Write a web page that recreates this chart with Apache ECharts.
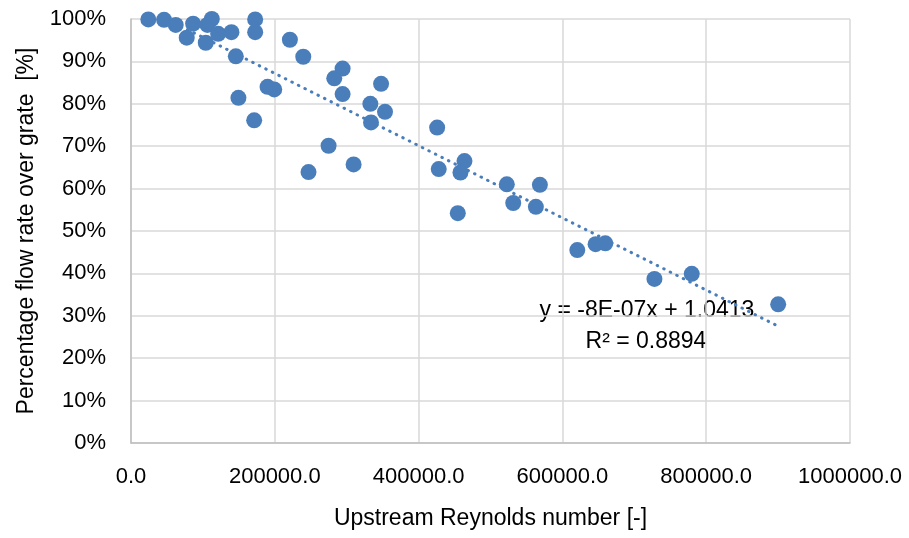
<!DOCTYPE html>
<html>
<head>
<meta charset="utf-8">
<script src="https://cdn.jsdelivr.net/npm/echarts@6/dist/echarts.min.js"></script>
<style>
html,body{margin:0;padding:0;background:#fff;}
#chart{width:909px;height:538px;}
</style>
</head>
<body>
<div id="chart"></div>
<script>
// Upstream Reynolds number [-]
var reynolds = [24100, 46000, 62200, 86400, 112400, 106300, 77500, 104000, 121200, 139700,
  172700, 172700, 145800, 149400, 171300, 189900, 199200, 221000, 239600, 294300,
  282700, 294300, 347800, 332900, 353300, 333800, 274800, 309600, 246900,
  425800, 428000, 463800, 458200, 454500, 522700, 568700, 531600, 563100,
  620700, 646200, 659700, 728000, 779900, 900100];
// Percentage flow rate over grate [%]
var percentFlow = [99.9, 99.8, 98.6, 98.9, 100.0, 98.6, 95.6, 94.4, 96.5, 96.9,
  99.9, 96.9, 91.2, 81.4, 76.1, 84.0, 83.4, 95.1, 91.1, 88.3,
  86.0, 82.3, 84.7, 80.0, 78.1, 75.6, 70.1, 65.7, 63.9,
  74.4, 64.6, 66.5, 63.8, 54.2, 61.0, 60.9, 56.6, 55.7,
  45.5, 46.9, 47.1, 38.7, 39.9, 32.7];
var xTicks = [0, 200000, 400000, 600000, 800000, 1000000];
var yTicks = [0, 10, 20, 30, 40, 50, 60, 70, 80, 90, 100];
var equationText = ['y = -8E-07x + 1.0413', 'R² = 0.8894'];

// least-squares linear trendline (as the spreadsheet draws it) from the data
var n = reynolds.length, sx = 0, sy = 0, sxx = 0, sxy = 0;
for (var i = 0; i < n; i++) { sx += reynolds[i]; sy += percentFlow[i]; sxx += reynolds[i]*reynolds[i]; sxy += reynolds[i]*percentFlow[i]; }
var slope = (n*sxy - sx*sy) / (n*sxx - sx*sx);
var intercept = (sy - slope*sx) / n;
var xMin = Math.min.apply(null, reynolds), xMax = Math.max.apply(null, reynolds);
var trend = [[xMin, intercept + slope*xMin], [xMax, intercept + slope*xMax]];

var FONT = '"Liberation Sans", Arial, sans-serif';
var TICK = 22;
var TITLE = 23;

var pts = reynolds.map(function(x, i){ return [x, percentFlow[i]]; });
var chart = echarts.init(document.getElementById('chart'));
chart.setOption({
  backgroundColor: '#ffffff',
  animation: false,
  grid: {left: 131, right: 59, top: 19, bottom: 95},
  xAxis: {
    type: 'value', min: xTicks[0], max: xTicks[xTicks.length-1], interval: 200000,
    name: 'Upstream Reynolds number [-]', nameLocation: 'middle', nameGap: 64,
    nameTextStyle: {fontFamily: FONT, fontSize: TITLE, color: '#000'},
    axisLine: {show: true, lineStyle: {color: '#bfbfbf', width: 1.5}},
    axisTick: {show: false},
    axisLabel: {fontFamily: FONT, fontSize: TICK, color: '#000', margin: 23,
      formatter: function(v){ return v.toFixed(1); }},
    splitLine: {show: true, lineStyle: {color: '#d9d9d9', width: 1.5}}
  },
  yAxis: {
    type: 'value', min: yTicks[0], max: yTicks[yTicks.length-1], interval: 10,
    name: 'Percentage flow rate over grate  [%]', nameLocation: 'middle', nameGap: 93,
    nameTextStyle: {fontFamily: FONT, fontSize: TITLE, color: '#000'},
    axisLine: {show: true, lineStyle: {color: '#bfbfbf', width: 1.5}},
    axisTick: {show: false},
    axisLabel: {fontFamily: FONT, fontSize: TICK, color: '#000', margin: 25, formatter: '{value}%'},
    splitLine: {show: true, lineStyle: {color: '#d9d9d9', width: 1.5}}
  },
  series: [
    {
      type: 'line', data: trend, symbol: 'none', clip: true, silent: true, z: 3,
      lineStyle: {color: '#4a7ebb', width: 3, type: [0.5, 6.8], cap: 'round'}
    },
    {
      type: 'scatter', data: pts, symbol: 'circle', symbolSize: 16, z: 2,
      itemStyle: {color: '#4a7ebb', opacity: 1}
    }
  ],
  graphic: [
    {type: 'text', x: 647, y: 311, style: {text: equationText[0], font: TITLE + 'px ' + FONT, fill: '#000', textAlign: 'center', textVerticalAlign: 'middle'}},
    {type: 'text', x: 646, y: 342, style: {text: equationText[1], font: TITLE + 'px ' + FONT, fill: '#000', textAlign: 'center', textVerticalAlign: 'middle'}}
  ]
});
</script>
</body>
</html>
